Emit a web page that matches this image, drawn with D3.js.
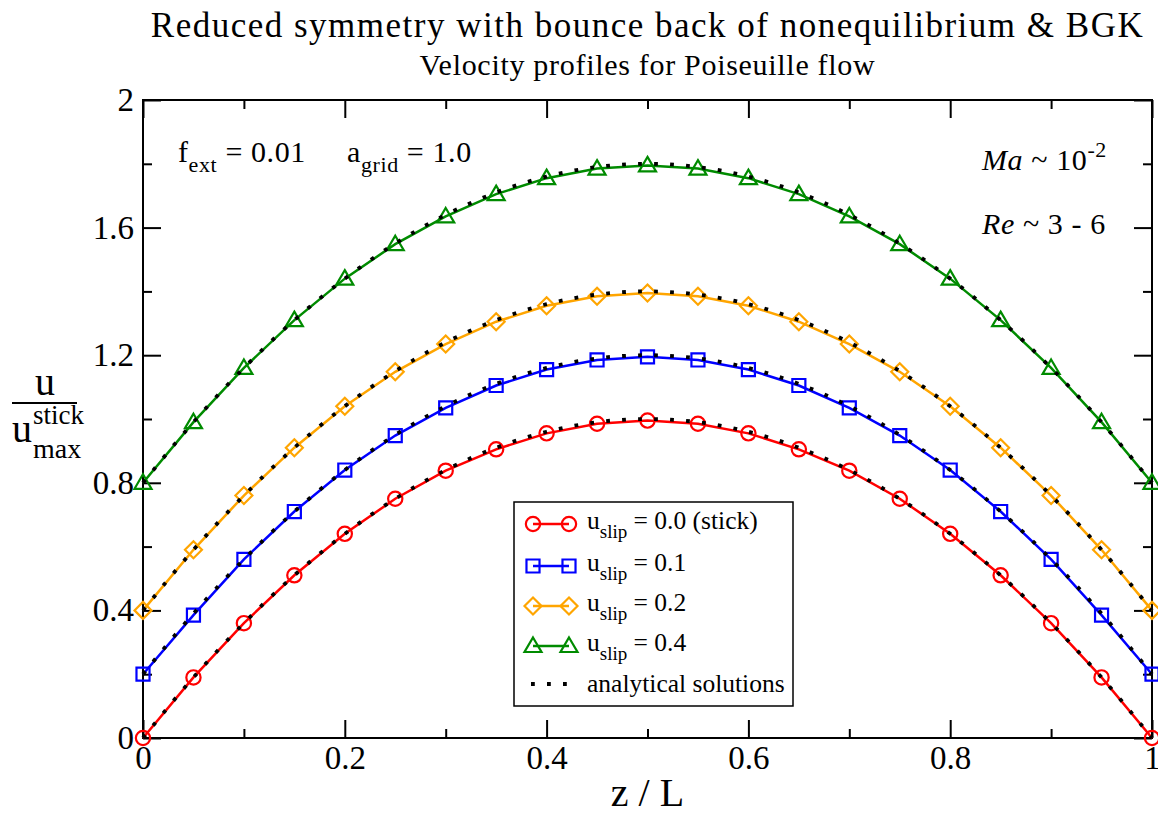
<!DOCTYPE html>
<html>
<head>
<meta charset="utf-8">
<script src="https://cdn.jsdelivr.net/npm/d3@7"></script>
<style>
  body { margin: 0; }
</style>
</head>
<body>
<div id="chart"></div>
<script>
// z / L positions of the lattice nodes
const zValues = [0, 0.05, 0.1, 0.15, 0.2, 0.25, 0.3, 0.35, 0.4, 0.45, 0.5,
                 0.55, 0.6, 0.65, 0.7, 0.75, 0.8, 0.85, 0.9, 0.95, 1];

// simulated profiles
const stickSim = [0, 0.19, 0.36, 0.51, 0.64, 0.75, 0.838, 0.905, 0.955, 0.985, 0.995,
                  0.985, 0.955, 0.905, 0.838, 0.75, 0.64, 0.51, 0.36, 0.19, 0];
const slip01Sim = [0.2, 0.385, 0.56, 0.71, 0.84, 0.948, 1.035, 1.105, 1.155, 1.185, 1.195,
                   1.185, 1.155, 1.105, 1.035, 0.948, 0.84, 0.71, 0.56, 0.385, 0.2];
const slip02Sim = [0.4, 0.59, 0.76, 0.91, 1.04, 1.148, 1.235, 1.305, 1.355, 1.385, 1.395,
                   1.385, 1.355, 1.305, 1.235, 1.148, 1.04, 0.91, 0.76, 0.59, 0.4];
const slip04Sim = [0.8, 0.99, 1.16, 1.31, 1.44, 1.548, 1.635, 1.705, 1.755, 1.785, 1.795,
                   1.785, 1.755, 1.705, 1.635, 1.548, 1.44, 1.31, 1.16, 0.99, 0.8];

// analytical solutions at the same nodes
const stickExact = [0, 0.19, 0.36, 0.51, 0.64, 0.75, 0.84, 0.91, 0.96, 0.99, 1.0,
                    0.99, 0.96, 0.91, 0.84, 0.75, 0.64, 0.51, 0.36, 0.19, 0];
const slip01Exact = [0.2, 0.39, 0.56, 0.71, 0.84, 0.95, 1.04, 1.11, 1.16, 1.19, 1.2,
                     1.19, 1.16, 1.11, 1.04, 0.95, 0.84, 0.71, 0.56, 0.39, 0.2];
const slip02Exact = [0.4, 0.59, 0.76, 0.91, 1.04, 1.15, 1.24, 1.31, 1.36, 1.39, 1.4,
                     1.39, 1.36, 1.31, 1.24, 1.15, 1.04, 0.91, 0.76, 0.59, 0.4];
const slip04Exact = [0.8, 0.99, 1.16, 1.31, 1.44, 1.55, 1.64, 1.71, 1.76, 1.79, 1.8,
                     1.79, 1.76, 1.71, 1.64, 1.55, 1.44, 1.31, 1.16, 0.99, 0.8];

const xMajorTicks = [0, 0.2, 0.4, 0.6, 0.8, 1];
const xMinorTicks = [0.1, 0.3, 0.5, 0.7, 0.9];
const yMajorTicks = [0, 0.4, 0.8, 1.2, 1.6, 2];
const yMinorTicks = [0.2, 0.6, 1.0, 1.4, 1.8];

const seriesNames = ['0.0 (stick)', '0.1', '0.2', '0.4'];
const seriesColors = ['#ff0000', '#0000ff', '#ffa500', '#008b00'];
const seriesSymbols = ['circle', 'square', 'diamond', 'triangle'];

const FONT = '"Liberation Serif", Tinos, "Times New Roman", Times';

const width = 1158;
const height = 816;
const margin = { top: 100, right: 6, bottom: 78, left: 143 };
const plotW = width - margin.left - margin.right;
const plotH = height - margin.top - margin.bottom;

const svg = d3.select('#chart')
  .append('svg')
  .attr('width', width)
  .attr('height', height);

const x = d3.scaleLinear().domain([0, 1]).range([margin.left, margin.left + plotW]);
const y = d3.scaleLinear().domain([0, 2]).range([margin.top + plotH, margin.top]);

function label(parent, px, py, size) {
  return parent.append('text')
    .attr('x', px).attr('y', py)
    .style('font-family', FONT)
    .style('font-size', size + 'px');
}

// axes: inward ticks, labels only bottom and left
function styleAxis(g) {
  g.select('.domain').remove();
  g.selectAll('line').attr('stroke', '#000').attr('stroke-width', 2);
  g.selectAll('text').attr('fill', '#000')
    .style('font-family', FONT)
    .style('font-size', '33px');
}

svg.append('g').attr('transform', `translate(0,${y(0)})`)
  .call(d3.axisBottom(x).tickValues(xMajorTicks).tickSize(-18).tickPadding(8).tickFormat(d3.format('')))
  .call(styleAxis);
svg.append('g').attr('transform', `translate(0,${y(0)})`)
  .call(d3.axisBottom(x).tickValues(xMinorTicks).tickSize(-9).tickFormat(''))
  .call(styleAxis);
svg.append('g').attr('transform', `translate(0,${y(2)})`)
  .call(d3.axisTop(x).tickValues(xMajorTicks).tickSize(-18).tickFormat(''))
  .call(styleAxis);
svg.append('g').attr('transform', `translate(0,${y(2)})`)
  .call(d3.axisTop(x).tickValues(xMinorTicks).tickSize(-9).tickFormat(''))
  .call(styleAxis);

svg.append('g').attr('transform', `translate(${x(0)},0)`)
  .call(d3.axisLeft(y).tickValues(yMajorTicks).tickSize(-18).tickPadding(9).tickFormat(d3.format('')))
  .call(styleAxis);
svg.append('g').attr('transform', `translate(${x(0)},0)`)
  .call(d3.axisLeft(y).tickValues(yMinorTicks).tickSize(-9).tickFormat(''))
  .call(styleAxis);
svg.append('g').attr('transform', `translate(${x(1)},0)`)
  .call(d3.axisRight(y).tickValues(yMajorTicks).tickSize(-18).tickFormat(''))
  .call(styleAxis);
svg.append('g').attr('transform', `translate(${x(1)},0)`)
  .call(d3.axisRight(y).tickValues(yMinorTicks).tickSize(-9).tickFormat(''))
  .call(styleAxis);

// frame
svg.append('rect')
  .attr('x', x(0)).attr('y', y(2))
  .attr('width', x(1) - x(0)).attr('height', y(0) - y(2))
  .attr('fill', 'none').attr('stroke', '#000').attr('stroke-width', 2);

const plot = svg.append('g');

const simLine = d3.line().x((d, i) => x(zValues[i])).y(d => y(d));
const exactLine = d3.line().x((d, i) => x(zValues[i])).y(d => y(d)).curve(d3.curveMonotoneX);

function symbolPath(kind) {
  if (kind === 'circle') return d3.symbol(d3.symbolCircle, 160)();
  if (kind === 'square') return d3.symbol(d3.symbolSquare, 170)();
  if (kind === 'diamond') return 'M0,-8.5L8.5,0L0,8.5L-8.5,0Z';
  return 'M0,-8.5L8.5,6L-8.5,6Z';
}

const simSeries = [stickSim, slip01Sim, slip02Sim, slip04Sim];
const exactSeries = [stickExact, slip01Exact, slip02Exact, slip04Exact];

simSeries.forEach((vals, k) => {
  plot.append('path')
    .datum(vals)
    .attr('fill', 'none')
    .attr('stroke', seriesColors[k])
    .attr('stroke-width', 2.5)
    .attr('d', simLine);

  plot.selectAll(null)
    .data(vals)
    .enter()
    .append('path')
    .attr('transform', (d, i) => `translate(${x(zValues[i])},${y(d)})`)
    .attr('d', symbolPath(seriesSymbols[k]))
    .attr('fill', 'none')
    .attr('stroke', seriesColors[k])
    .attr('stroke-width', 2.2);
});

exactSeries.forEach(vals => {
  plot.append('path')
    .datum(vals)
    .attr('fill', 'none')
    .attr('stroke', '#000')
    .attr('stroke-width', 3.8)
    .attr('stroke-dasharray', '3.8 12.2')
    .attr('d', exactLine);
});

// legend
const legend = svg.append('g');
legend.append('rect')
  .attr('x', 514).attr('y', 502).attr('width', 279).attr('height', 204)
  .attr('fill', '#fff').attr('stroke', '#000').attr('stroke-width', 1.5);

const rowY = [524, 566, 606, 646];
seriesNames.forEach((name, k) => {
  const ry = rowY[k];
  legend.append('line')
    .attr('x1', 533).attr('x2', 569).attr('y1', ry).attr('y2', ry)
    .attr('stroke', seriesColors[k]).attr('stroke-width', 2.5);
  [533, 569].forEach(cx => {
    legend.append('path')
      .attr('transform', `translate(${cx},${ry})`)
      .attr('d', symbolPath(seriesSymbols[k]))
      .attr('fill', 'none').attr('stroke', seriesColors[k]).attr('stroke-width', 2.2);
  });
  const t = label(legend, 587, ry + 5, 25.5);
  t.append('tspan').text('u');
  t.append('tspan').attr('dy', 9).style('font-size', '19px').text('slip');
  t.append('tspan').attr('dy', -9).text(' = ' + name);
});
legend.append('line')
  .attr('x1', 531).attr('x2', 575).attr('y1', 684).attr('y2', 684)
  .attr('stroke', '#000').attr('stroke-width', 3.8).attr('stroke-dasharray', '3.8 12.2');
label(legend, 587, 692, 25.5).text('analytical solutions');

// axis titles
label(svg, x(0.5), 806, 40)
  .attr('text-anchor', 'middle')
  .text('z / L');

label(svg, 45, 395, 40).attr('text-anchor', 'middle').text('u');
svg.append('line').attr('x1', 12).attr('x2', 77).attr('y1', 403).attr('y2', 403)
  .attr('stroke', '#000').attr('stroke-width', 2);
label(svg, 12, 442, 40).text('u');
label(svg, 33, 424, 27).text('stick');
label(svg, 33, 458, 28).text('max');

// annotations
const ann1 = label(svg, 178, 162, 30).style('letter-spacing', '0.6px');
ann1.append('tspan').text('f');
ann1.append('tspan').attr('dy', 10).style('font-size', '22px').text('ext');
ann1.append('tspan').attr('dy', -10).text(' = 0.01');

const ann2 = label(svg, 347, 162, 30).style('letter-spacing', '0.6px');
ann2.append('tspan').text('a');
ann2.append('tspan').attr('dy', 10).style('font-size', '22px').text('grid');
ann2.append('tspan').attr('dy', -10).text(' = 1.0');

const ann3 = label(svg, 982, 170, 30).style('letter-spacing', '0.6px');
ann3.append('tspan').style('font-style', 'italic').text('Ma');
ann3.append('tspan').text(' ~ 10');
ann3.append('tspan').attr('dy', -13).style('font-size', '22px').text('-2');

const ann4 = label(svg, 982, 234, 30).style('letter-spacing', '0.6px');
ann4.append('tspan').style('font-style', 'italic').text('Re');
ann4.append('tspan').text(' ~ 3 - 6');

// titles
label(svg, (x(0) + x(1)) / 2, 37, 35)
  .attr('text-anchor', 'middle')
  .style('letter-spacing', '1.5px')
  .text('Reduced symmetry with bounce back of nonequilibrium & BGK');
label(svg, (x(0) + x(1)) / 2, 75, 30)
  .attr('text-anchor', 'middle')
  .style('letter-spacing', '0.7px')
  .text('Velocity profiles for Poiseuille flow');
</script>
</body>
</html>
